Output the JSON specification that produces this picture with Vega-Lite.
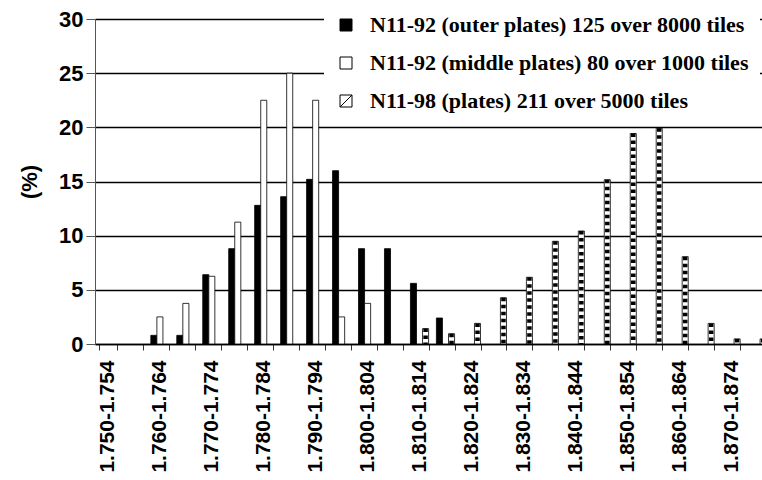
{
  "$schema": "https://vega.github.io/schema/vega-lite/v6.json",
  "width": 667,
  "height": 325,
  "autosize": "none",
  "padding": {"left": 95, "top": 19, "right": 0, "bottom": 136},
  "background": "white",
  "config": {"view": {"stroke": null}},
  "data": {
    "values": [
      {"range": "1.760-1.764", "series": "N11-92 (outer plates) 125 over 8000 tiles", "pct": 0.8},
      {"range": "1.765-1.769", "series": "N11-92 (outer plates) 125 over 8000 tiles", "pct": 0.8},
      {"range": "1.770-1.774", "series": "N11-92 (outer plates) 125 over 8000 tiles", "pct": 6.4},
      {"range": "1.775-1.779", "series": "N11-92 (outer plates) 125 over 8000 tiles", "pct": 8.8},
      {"range": "1.780-1.784", "series": "N11-92 (outer plates) 125 over 8000 tiles", "pct": 12.8},
      {"range": "1.785-1.789", "series": "N11-92 (outer plates) 125 over 8000 tiles", "pct": 13.6},
      {"range": "1.790-1.794", "series": "N11-92 (outer plates) 125 over 8000 tiles", "pct": 15.2},
      {"range": "1.795-1.799", "series": "N11-92 (outer plates) 125 over 8000 tiles", "pct": 16.0},
      {"range": "1.800-1.804", "series": "N11-92 (outer plates) 125 over 8000 tiles", "pct": 8.8},
      {"range": "1.805-1.809", "series": "N11-92 (outer plates) 125 over 8000 tiles", "pct": 8.8},
      {"range": "1.810-1.814", "series": "N11-92 (outer plates) 125 over 8000 tiles", "pct": 5.6},
      {"range": "1.815-1.819", "series": "N11-92 (outer plates) 125 over 8000 tiles", "pct": 2.4},
      {"range": "1.760-1.764", "series": "N11-92 (middle plates) 80 over 1000 tiles", "pct": 2.5},
      {"range": "1.765-1.769", "series": "N11-92 (middle plates) 80 over 1000 tiles", "pct": 3.75},
      {"range": "1.770-1.774", "series": "N11-92 (middle plates) 80 over 1000 tiles", "pct": 6.25},
      {"range": "1.775-1.779", "series": "N11-92 (middle plates) 80 over 1000 tiles", "pct": 11.25},
      {"range": "1.780-1.784", "series": "N11-92 (middle plates) 80 over 1000 tiles", "pct": 22.5},
      {"range": "1.785-1.789", "series": "N11-92 (middle plates) 80 over 1000 tiles", "pct": 25.0},
      {"range": "1.790-1.794", "series": "N11-92 (middle plates) 80 over 1000 tiles", "pct": 22.5},
      {"range": "1.795-1.799", "series": "N11-92 (middle plates) 80 over 1000 tiles", "pct": 2.5},
      {"range": "1.800-1.804", "series": "N11-92 (middle plates) 80 over 1000 tiles", "pct": 3.75},
      {"range": "1.810-1.814", "series": "N11-98 (plates) 211 over 5000 tiles", "pct": 1.42},
      {"range": "1.815-1.819", "series": "N11-98 (plates) 211 over 5000 tiles", "pct": 0.95},
      {"range": "1.820-1.824", "series": "N11-98 (plates) 211 over 5000 tiles", "pct": 1.9},
      {"range": "1.825-1.829", "series": "N11-98 (plates) 211 over 5000 tiles", "pct": 4.27},
      {"range": "1.830-1.834", "series": "N11-98 (plates) 211 over 5000 tiles", "pct": 6.16},
      {"range": "1.835-1.839", "series": "N11-98 (plates) 211 over 5000 tiles", "pct": 9.48},
      {"range": "1.840-1.844", "series": "N11-98 (plates) 211 over 5000 tiles", "pct": 10.43},
      {"range": "1.845-1.849", "series": "N11-98 (plates) 211 over 5000 tiles", "pct": 15.17},
      {"range": "1.850-1.854", "series": "N11-98 (plates) 211 over 5000 tiles", "pct": 19.43},
      {"range": "1.855-1.859", "series": "N11-98 (plates) 211 over 5000 tiles", "pct": 19.91},
      {"range": "1.860-1.864", "series": "N11-98 (plates) 211 over 5000 tiles", "pct": 8.06},
      {"range": "1.865-1.869", "series": "N11-98 (plates) 211 over 5000 tiles", "pct": 1.9},
      {"range": "1.870-1.874", "series": "N11-98 (plates) 211 over 5000 tiles", "pct": 0.47},
      {"range": "1.875-1.879", "series": "N11-98 (plates) 211 over 5000 tiles", "pct": 0.47}
    ]
  },
  "layer": [
    {
      "mark": {"type": "bar", "stroke": "black", "strokeWidth": 0.8},
      "encoding": {
        "x": {
          "field": "range",
          "type": "nominal",
          "sort": null,
          "scale": {
            "domain": ["1.750-1.754", "1.755-1.759", "1.760-1.764", "1.765-1.769", "1.770-1.774", "1.775-1.779", "1.780-1.784", "1.785-1.789", "1.790-1.794", "1.795-1.799", "1.800-1.804", "1.805-1.809", "1.810-1.814", "1.815-1.819", "1.820-1.824", "1.825-1.829", "1.830-1.834", "1.835-1.839", "1.840-1.844", "1.845-1.849", "1.850-1.854", "1.855-1.859", "1.860-1.864", "1.865-1.869", "1.870-1.874", "1.875-1.879"],
            "range": [0, 675],
            "paddingInner": 0.3,
            "paddingOuter": 0.15
          },
          "axis": {
            "title": null,
            "labelAngle": -90,
            "labelAlign": "right",
            "labelBaseline": "middle",
            "labelFont": "Liberation Sans",
            "labelFontWeight": "bold",
            "labelFontSize": 21,
            "labelColor": "black",
            "labelPadding": 10,
            "labelExpr": "slice(datum.label, 4, 5) == '5' ? '' : datum.label",
            "tickBand": "extent",
            "tickSize": 6,
            "tickColor": "#333333",
            "domainColor": "black",
            "domainWidth": 1.5,
            "grid": false
          }
        },
        "xOffset": {
          "field": "series",
          "type": "nominal",
          "sort": null,
          "scale": {"domain": ["N11-92 (outer plates) 125 over 8000 tiles", "N11-92 (middle plates) 80 over 1000 tiles", "N11-98 (plates) 211 over 5000 tiles"]}
        },
        "y": {
          "field": "pct",
          "type": "quantitative",
          "scale": {"domain": [0, 30]},
          "axis": {
            "title": "(%)",
            "titleFont": "Liberation Sans",
            "titleFontWeight": "bold",
            "titleFontSize": 22,
            "titleColor": "black",
            "titlePadding": 17,
            "values": [0, 5, 10, 15, 20, 25, 30],
            "labelFont": "Liberation Sans",
            "labelFontWeight": "bold",
            "labelFontSize": 22,
            "labelColor": "black",
            "labelPadding": 3,
            "tickSize": 9,
            "tickColor": "#555555",
            "domainColor": "#555555",
            "grid": true,
            "gridColor": "black",
            "gridWidth": 1.3
          }
        },
        "fill": {
          "field": "series",
          "type": "nominal",
          "sort": null,
          "scale": {
            "domain": ["N11-92 (outer plates) 125 over 8000 tiles", "N11-92 (middle plates) 80 over 1000 tiles", "N11-98 (plates) 211 over 5000 tiles"],
            "range": ["black", "white", "white"]
          },
          "legend": {
            "title": null,
            "orient": "none",
            "legendX": 229,
            "legendY": -16,
            "padding": 11,
            "fillColor": "white",
            "symbolType": "square",
            "symbolSize": 144,
            "symbolStrokeColor": "black",
            "symbolStrokeWidth": 1,
            "labelFont": "Liberation Serif",
            "labelFontWeight": "bold",
            "labelFontSize": 22,
            "labelColor": "black",
            "labelOffset": 13,
            "labelLimit": 500,
            "rowPadding": 16,
            "encode": {
              "symbols": {
                "update": {
                  "shape": {"signal": "datum.label === 'N11-98 (plates) 211 over 5000 tiles' ? 'M-1,-1H1V1H-1Z M-1,1L1,-1' : 'square'"}
                }
              }
            }
          }
        }
      }
    },
    {
      "transform": [{"filter": "datum.series === 'N11-98 (plates) 211 over 5000 tiles'"}],
      "mark": {"type": "rule", "strokeWidth": 4.5, "strokeDash": [3.5, 3.5], "color": "black"},
      "encoding": {
        "x": {"field": "range", "type": "nominal", "sort": null},
        "xOffset": {"field": "series", "type": "nominal", "sort": null},
        "y": {"field": "pct", "type": "quantitative"},
        "y2": {"datum": 0}
      }
    }
  ]
}
